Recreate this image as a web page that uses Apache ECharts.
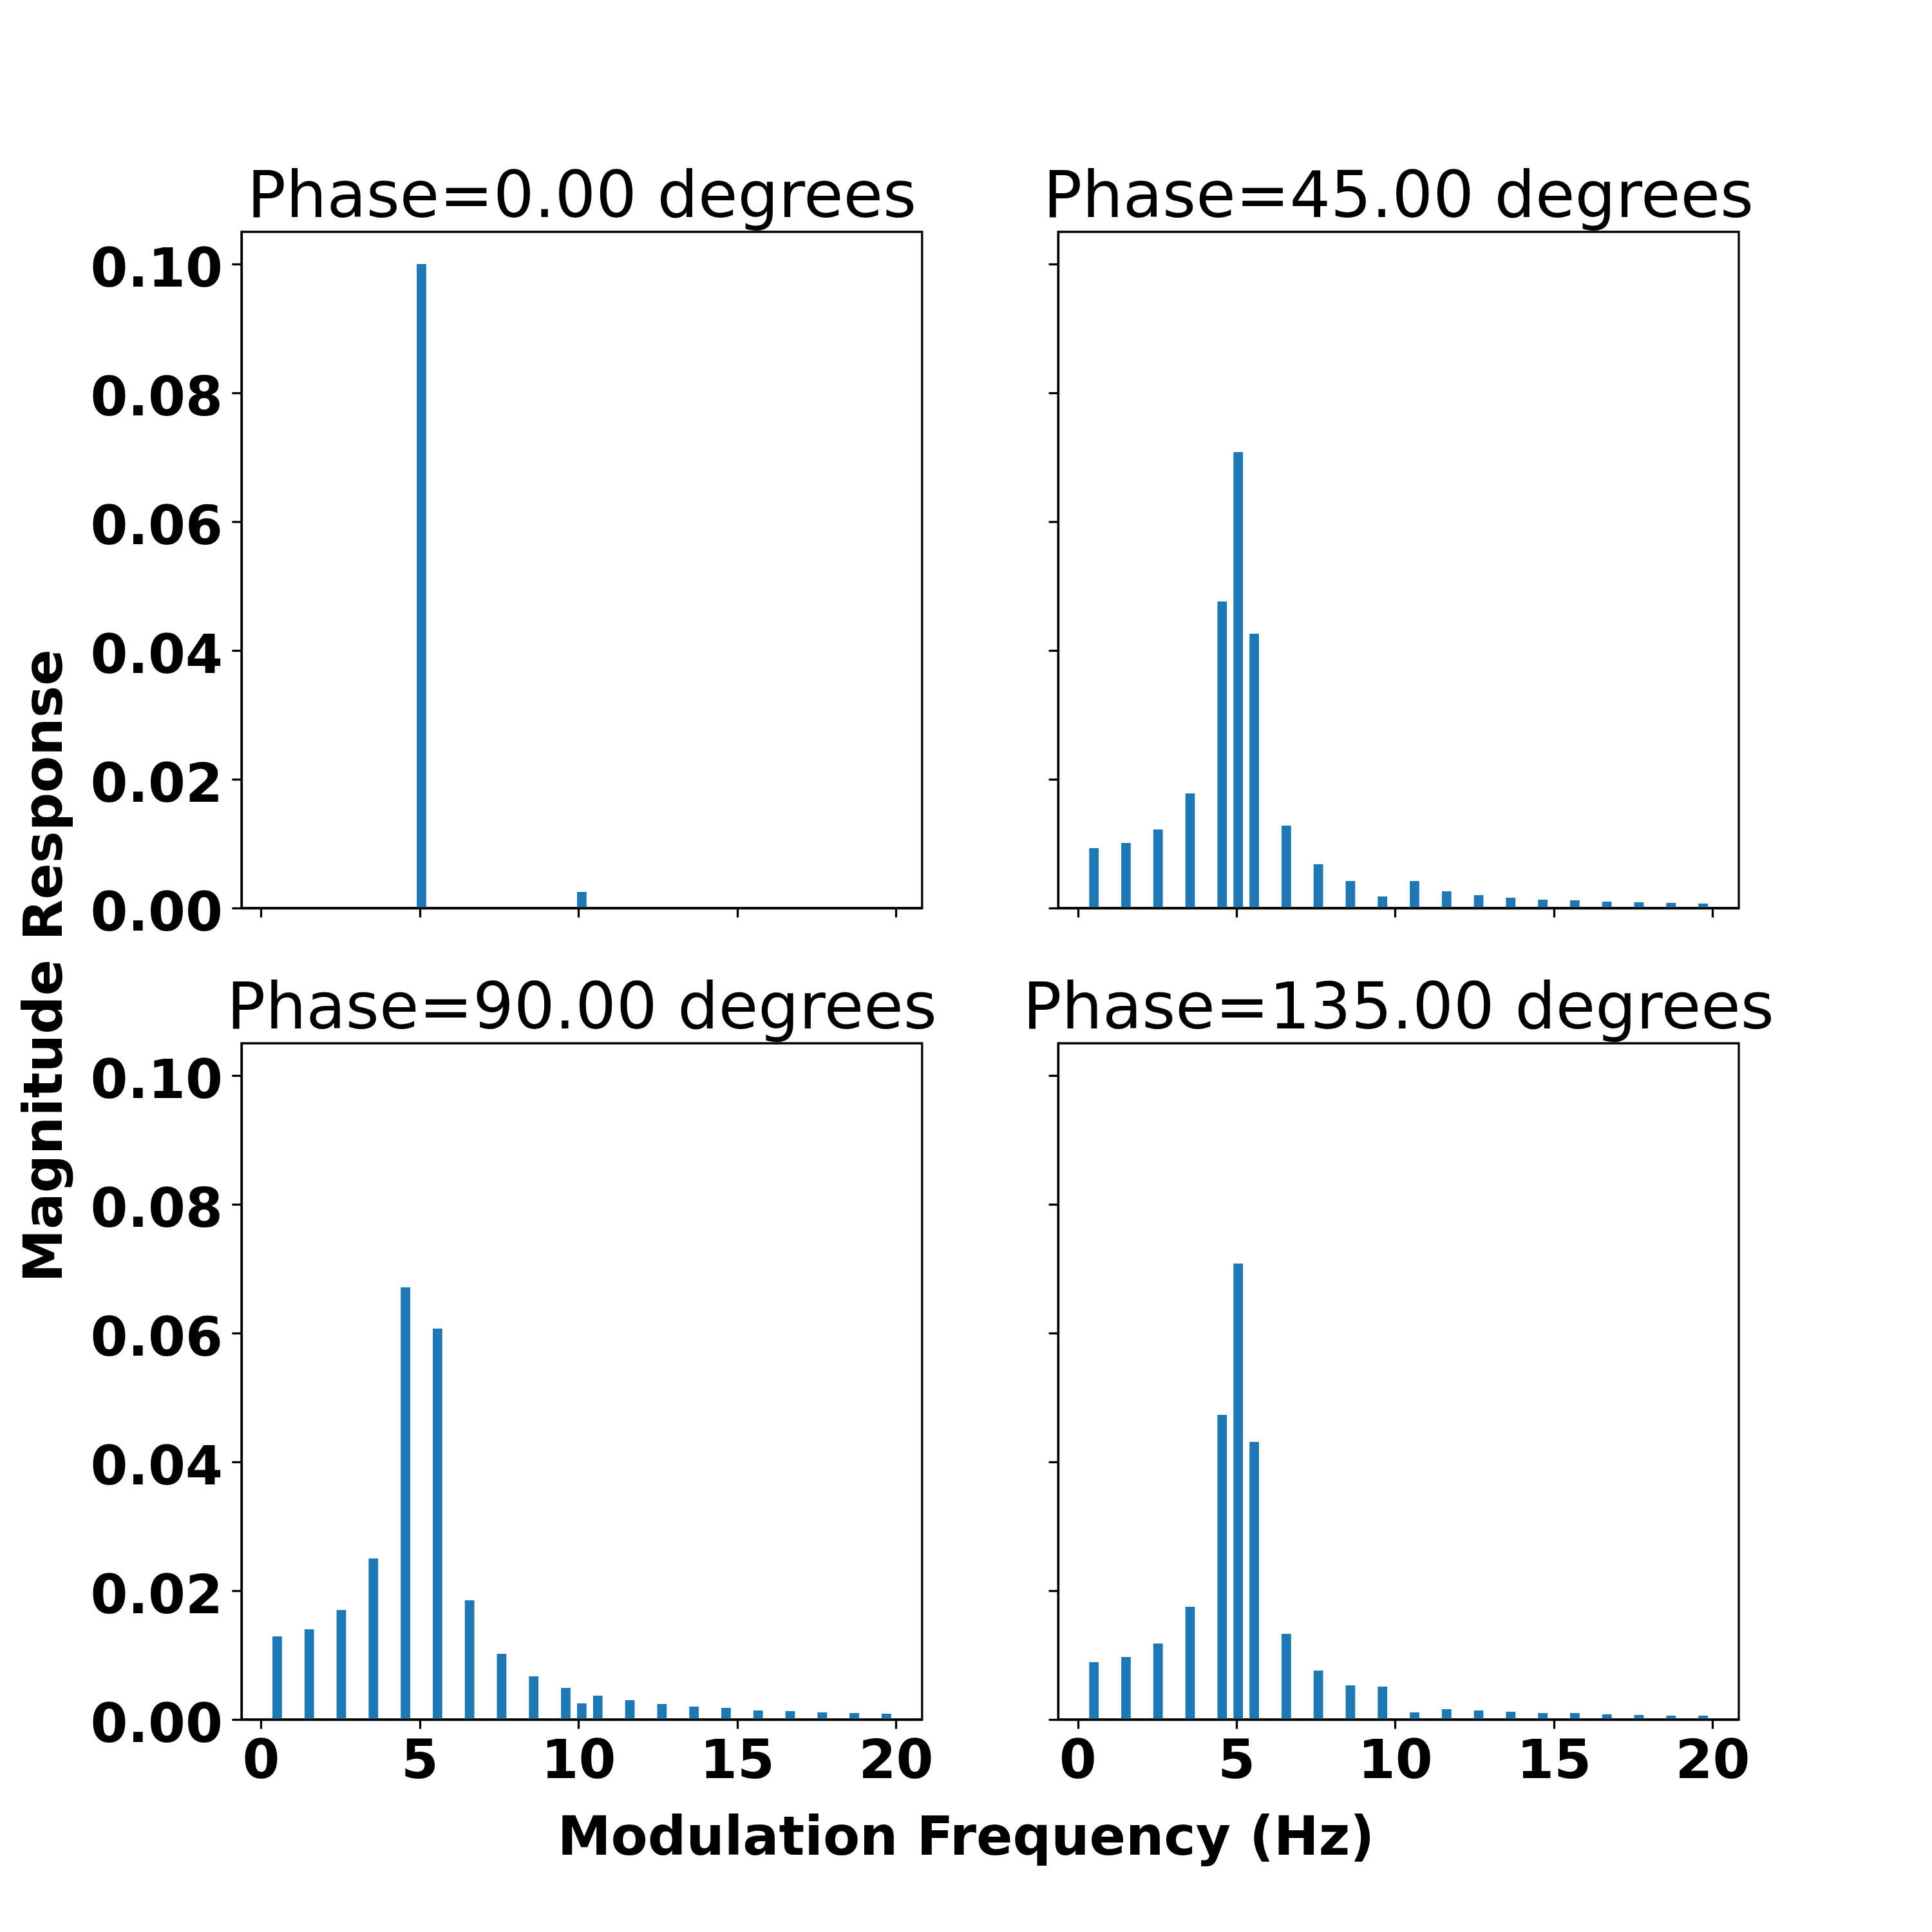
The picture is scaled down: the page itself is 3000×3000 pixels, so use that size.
<!DOCTYPE html>
<html>
<head>
<meta charset="utf-8">
<script src="https://cdn.jsdelivr.net/npm/echarts@6/dist/echarts.min.js"></script>
<style>html,body{margin:0;padding:0;background:#fff}#c{width:3000px;height:3000px}</style>
</head>
<body>
<div id="c"></div>
<script>
// ---- data ----
const freqs = [0.505, 1.515, 2.525, 3.535, 4.545, 5.05, 5.555, 6.565, 7.575, 8.585, 9.595, 10.1, 10.605, 11.615, 12.625, 13.635, 14.645, 15.655, 16.665, 17.675, 18.685, 19.695];
const phase0   = [null, null, null, null, null, 0.1000, null, null, null, null, null, 0.0025, null, null, null, null, null, null, null, null, null, null];
const phase45  = [0.0093, 0.0101, 0.0122, 0.0178, 0.0476, 0.0708, 0.0426, 0.0128, 0.0068, 0.0042, 0.0018, null, 0.0042, 0.0026, 0.0020, 0.0016, 0.0013, 0.0012, 0.0010, 0.0009, 0.0008, 0.0007];
const phase90  = [0.0129, 0.0140, 0.0170, 0.0250, 0.0671, null, 0.0607, 0.0185, 0.0102, 0.0067, 0.0049, 0.0025, 0.0037, 0.0030, 0.0024, 0.0020, 0.0018, 0.0014, 0.0013, 0.0011, 0.0010, 0.0009];
const phase135 = [0.0089, 0.0097, 0.0118, 0.0175, 0.0473, 0.0708, 0.0431, 0.0133, 0.0076, 0.0053, 0.0051, null, 0.0011, 0.0016, 0.0014, 0.0012, 0.0010, 0.0010, 0.0008, 0.0007, 0.0006, 0.0006];
const panelTitles = ['Phase=0.00 degrees', 'Phase=45.00 degrees', 'Phase=90.00 degrees', 'Phase=135.00 degrees'];
const xTicks = [0, 5, 10, 15, 20];
const yTicks = [0, 0.02, 0.04, 0.06, 0.08, 0.10];
const xLabel = 'Modulation Frequency (Hz)';
const yLabel = 'Magnitude Response';

// ---- layout ----
const FONT = '"DejaVu Sans", sans-serif';
const gw = 1056.8, gh = 1050;
const lefts = [375, 1643.2, 375, 1643.2];
const tops = [360, 360, 1620, 1620];
const xMin = -0.62, xMax = 20.82, yMax = 0.105;
const barW = 0.3 * gw / (xMax - xMin);
const blue = '#1f77b4';
const tickFs = 83.3, titleFs = 100;
const shift = 0.12; // baseline correction (em)

const allSeries = [phase0, phase45, phase90, phase135];

const grids = [], xAxes = [], yAxes = [], series = [], graphics = [];
for (let i = 0; i < 4; i++) {
  const bottomRow = i >= 2, leftCol = (i % 2) === 0;
  grids.push({ left: lefts[i], top: tops[i], width: gw, height: gh, show: true,
    borderColor: '#000', borderWidth: 3.3, backgroundColor: 'transparent', containLabel: false });
  xAxes.push({ type: 'value', gridIndex: i, min: xMin, max: xMax, z: 10,
    axisLine: { show: true, onZero: false, lineStyle: { color: '#000', width: 3.3 } },
    axisTick: { show: true, length: 14.6, lineStyle: { color: '#000', width: 3.3 }, customValues: xTicks },
    axisLabel: { show: bottomRow, customValues: xTicks, margin: 28, color: '#000',
      fontFamily: FONT, fontWeight: 'bold', fontSize: tickFs },
    splitLine: { show: false } });
  yAxes.push({ type: 'value', gridIndex: i, min: 0, max: yMax, z: 10,
    axisLine: { show: true, onZero: false, lineStyle: { color: '#000', width: 3.3 } },
    axisTick: { show: true, length: 14.6, lineStyle: { color: '#000', width: 3.3 }, customValues: yTicks },
    axisLabel: { show: leftCol, customValues: yTicks, margin: 29, color: '#000',
      fontFamily: FONT, fontWeight: 'bold', fontSize: tickFs,
      verticalAlign: 'top', lineHeight: 26,
      formatter: v => Number(v).toFixed(2) },
    splitLine: { show: false } });
  series.push({ type: 'bar', xAxisIndex: i, yAxisIndex: i, barWidth: barW,
    itemStyle: { color: blue }, animation: false,
    data: freqs.map((f, k) => allSeries[i][k] == null ? null : [f, allSeries[i][k]]).filter(d => d) });
  graphics.push({ type: 'text', x: lefts[i] + gw / 2, y: tops[i] - 25 - (0.3645 - shift) * titleFs,
    style: { text: panelTitles[i], font: titleFs + 'px ' + FONT, fill: '#000',
      align: 'center', verticalAlign: 'middle', textAlign: 'center', textVerticalAlign: 'middle' } });
}
graphics.push({ type: 'text', x: 1500, y: 2879 - (0.3645 - shift) * tickFs,
  style: { text: xLabel, font: 'bold ' + tickFs + 'px ' + FONT, fill: '#000',
    align: 'center', verticalAlign: 'middle', textAlign: 'center', textVerticalAlign: 'middle' } });
graphics.push({ type: 'text', x: 94.3 - (0.3645 - shift) * tickFs, y: 1500, rotation: Math.PI / 2,
  style: { text: yLabel, font: 'bold ' + tickFs + 'px ' + FONT, fill: '#000',
    align: 'center', verticalAlign: 'middle', textAlign: 'center', textVerticalAlign: 'middle' } });

const chart = echarts.init(document.getElementById('c'), null, { renderer: 'canvas' });
chart.setOption({
  backgroundColor: '#fff',
  animation: false,
  grid: grids, xAxis: xAxes, yAxis: yAxes, series: series,
  graphic: graphics
});
</script>
</body>
</html>
